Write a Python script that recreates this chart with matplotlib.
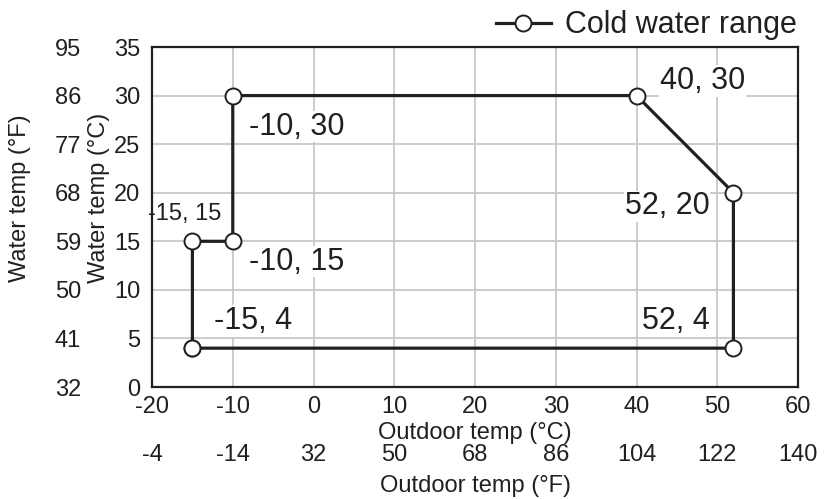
import matplotlib
matplotlib.use("Agg")
import matplotlib.pyplot as plt

plt.rcParams['font.family'] = ['Liberation Sans', 'DejaVu Sans']
plt.rcParams['axes.unicode_minus'] = False

# range corners (outdoor °C, water °C), walked round the polygon
outdoor_c = [-15, -15, -10, -10, 40, 52, 52, -15]
water_c = [4, 15, 15, 30, 30, 20, 4, 4]

x_ticks_c = [-20, -10, 0, 10, 20, 30, 40, 50, 60]
x_labels_f = ['-4', '-14', '32', '50', '68', '86', '104', '122', '140']
y_ticks_c = [0, 5, 10, 15, 20, 25, 30, 35]
y_labels_f = ['32', '41', '50', '59', '68', '77', '86', '95']

# where each corner's label sits, relative to the corner (data units)
label_offsets = {(-15, 4): (7.5, 2.8), (-15, 15): (-1.0, 2.8), (-10, 15): (7.9, -2.1),
                 (-10, 30): (7.9, -3.2), (40, 30): (8.2, 1.5), (52, 20): (-8.2, -1.4),
                 (52, 4): (-7.1, 2.8)}

ink = '#231f20'
fs = 17

fig = plt.figure(figsize=(8.33, 4.99), dpi=100)
ax = fig.add_axes([0.1825, 0.2244, 0.7755, 0.6814])

ax.plot(outdoor_c, water_c, color=ink, lw=2.3, marker='o', ms=11.5,
        mfc='white', mec=ink, mew=1.4, label='Cold water range', zorder=3)

for (x, y), (dx, dy) in label_offsets.items():
    size = 17 if (x, y) == (-15, 15) else 22
    ax.text(x + dx, y + dy, f'{x}, {y}', fontsize=size, color=ink,
            ha='center', va='center', zorder=2,
            bbox=dict(facecolor='white', edgecolor='none', pad=0.5))

ax.set_xlim(-20, 60)
ax.set_ylim(0, 35)
ax.set_xticks(x_ticks_c)
ax.set_yticks(y_ticks_c)
ax.grid(True, color='#c8c8c8', lw=1.3, zorder=0)
ax.set_axisbelow(True)
ax.tick_params(length=0, labelsize=fs, labelcolor=ink)
ax.tick_params(axis='x', pad=6.5)
ax.tick_params(axis='y', pad=8.5)
for s in ax.spines.values():
    s.set_color(ink)
    s.set_linewidth(1.6)
ax.set_xlabel('Outdoor temp (°C)', fontsize=fs, color=ink, labelpad=3)

sec_x = ax.secondary_xaxis(-0.152)
sec_x.set_xticks(x_ticks_c, x_labels_f)
sec_x.spines['bottom'].set_visible(False)
sec_x.tick_params(length=0, labelsize=fs, labelcolor=ink, pad=3.5)
sec_x.set_xlabel('Outdoor temp (°F)', fontsize=fs, color=ink, labelpad=7)

sec_y = ax.secondary_yaxis(-0.1034)
sec_y.set_yticks(y_ticks_c, y_labels_f)
sec_y.spines['left'].set_visible(False)
sec_y.tick_params(length=0, labelsize=fs, labelcolor=ink, pad=3)

fig.text(99 / 833, 1 - 198 / 499, 'Water temp (°C)', rotation=90, fontsize=fs,
         color=ink, ha='center', va='center')
fig.text(20 / 833, 1 - 198 / 499, 'Water temp (°F)', rotation=90, fontsize=fs,
         color=ink, ha='center', va='center')

ax.legend(loc='lower right', bbox_to_anchor=(1.0, 1.015), frameon=False, fontsize=22,
          handlelength=1.8, handletextpad=0.45, borderpad=0.05, borderaxespad=0,
          labelcolor=ink)

fig.savefig('out.png', dpi=100)
